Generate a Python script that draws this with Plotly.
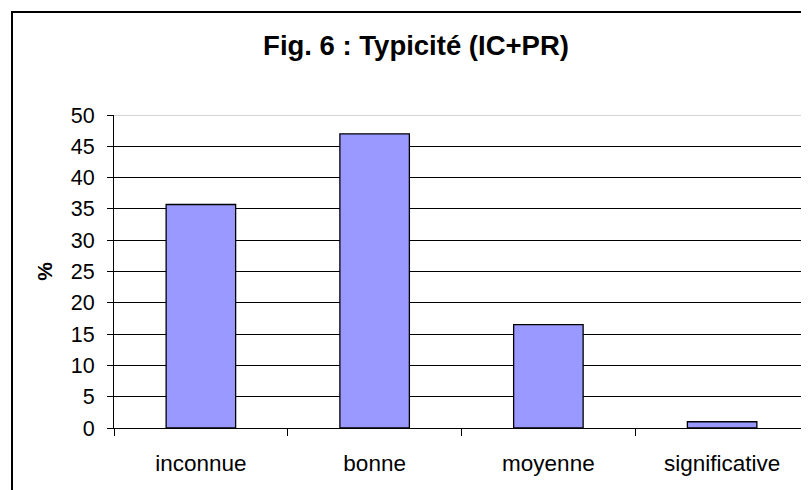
import plotly.graph_objects as go

# Fig. 6 : Typicité (IC+PR) -- share of each typicity level, in %
categories = ["inconnue", "bonne", "moyenne", "significative"]
percent = [35.7, 47.0, 16.5, 1.0]
y_ticks = [0, 5, 10, 15, 20, 25, 30, 35, 40, 45, 50]

FONT = "Arial, Liberation Sans, sans-serif"

# page body has an 8px margin, so the figure is 8px smaller than the window
W, H = 801, 482

fig = go.Figure(go.Bar(
    x=categories, y=percent,
    marker=dict(color="#9999ff", line=dict(color="black", width=1.3)),
    width=0.4,
    showlegend=False,
    hoverinfo="x+y",
))

fig.update_layout(
    width=W, height=H,
    margin=dict(l=106, r=0, t=107, b=62),
    paper_bgcolor="white", plot_bgcolor="white",
    font=dict(family=FONT, color="black", size=21),
    title=dict(
        text="<b>Fig. 6 : Typicité (IC+PR)</b>",
        font=dict(size=27.5, family=FONT, color="black"),
        x=408 / W, xanchor="center",
        y=1 - 37 / H, yanchor="middle", yref="container",
    ),
    xaxis=dict(
        range=[-0.5, 3.5],
        showline=True, linecolor="black", linewidth=1,
        ticks="outside", tickson="boundaries", ticklen=7, tickcolor="black",
        tickfont=dict(size=22.5),
        ticklabelstandoff=15,
        showgrid=False,
    ),
    yaxis=dict(
        range=[0, 50], tickvals=y_ticks,
        showline=True, linecolor="black", linewidth=1,
        ticks="outside", ticklen=6, tickcolor="black",
        tickfont=dict(size=21.5),
        ticklabelstandoff=8,
        showgrid=True, gridcolor="black", gridwidth=1,
        zeroline=False,
        title=dict(text="<b>%</b>", font=dict(size=21), standoff=12),
    ),
    shapes=[
        # Excel-style chart-area border (cropped on the right/bottom)
        dict(type="rect", xref="paper", yref="paper",
             x0=(4 - 106) / 695, x1=1.1, y0=-0.5, y1=(420 - 4) / 313,
             line=dict(color="black", width=2), layer="above"),
        # top gridline renders light grey in the reference
        dict(type="line", xref="paper", yref="y", x0=0, x1=1, y0=50, y1=50,
             line=dict(color="#d4d4d4", width=2), layer="above"),
    ],
)

fig.write_html("out.html")
